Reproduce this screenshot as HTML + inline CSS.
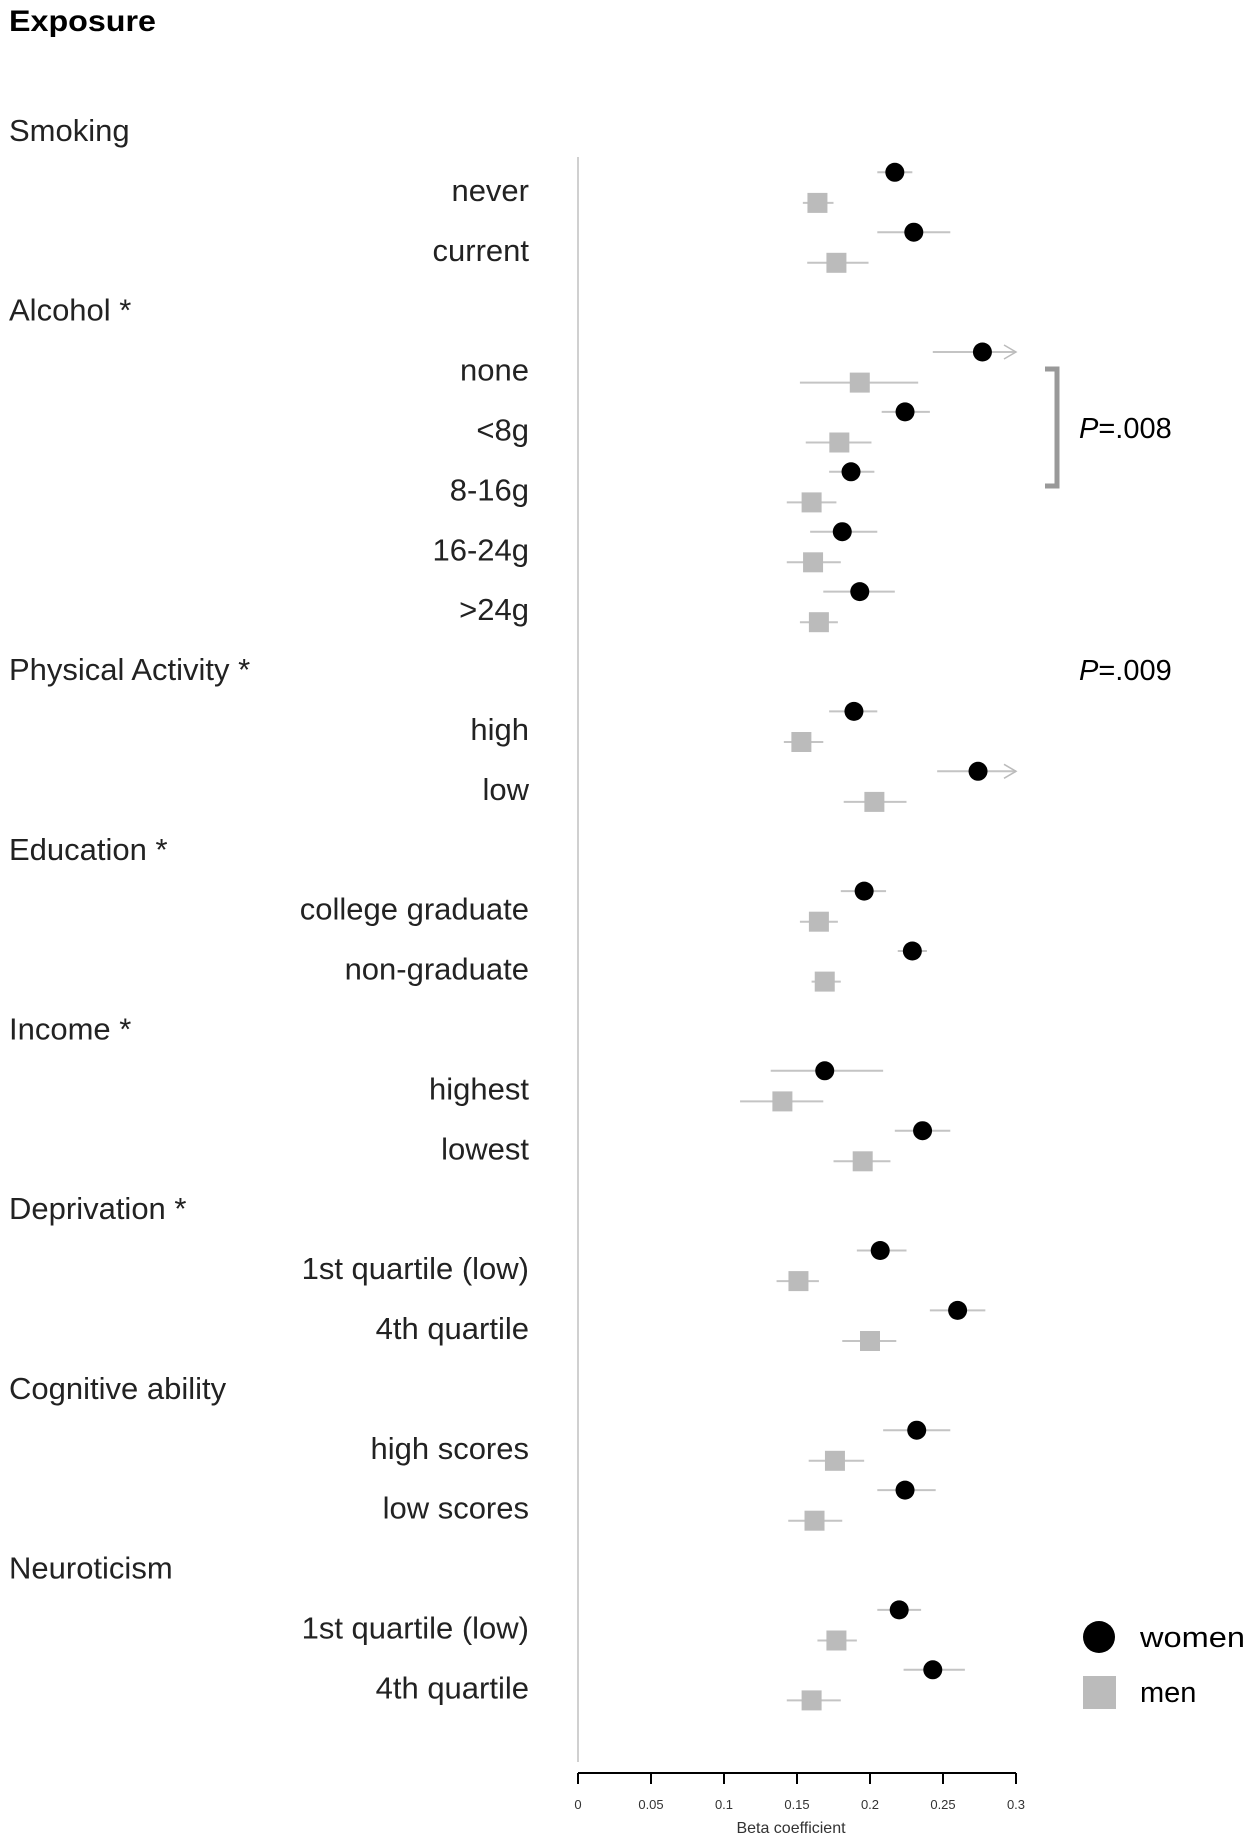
<!DOCTYPE html>
<html><head><meta charset="utf-8"><style>
body{margin:0;background:#fff;}
svg{display:block;font-family:"Liberation Sans",Arial,sans-serif;}
</style></head><body>
<svg id="chart" width="1250" height="1841" viewBox="0 0 1250 1841">
<text x="9" y="31" font-size="30" font-weight="bold" textLength="147" lengthAdjust="spacingAndGlyphs">Exposure</text>
<g id="labels"></g>
<line x1="578" y1="157" x2="578" y2="1762" stroke="#d0d0d0" stroke-width="2"/>
<g id="axis"></g>
<g id="marks"></g>
<path d="M1045 369 H1057 V486 H1045" fill="none" stroke="#999" stroke-width="5"/>
<text x="1079" y="438" font-size="29"><tspan font-style="italic">P</tspan>=.008</text>
<text x="1079" y="680" font-size="29"><tspan font-style="italic">P</tspan>=.009</text>
<circle cx="1099" cy="1637" r="16" fill="#000"/>
<text x="1140" y="1647" font-size="29" textLength="105" lengthAdjust="spacingAndGlyphs">women</text>
<rect x="1083" y="1676" width="33" height="33" fill="#bbb"/>
<text x="1140" y="1702" font-size="29">men</text>
</svg>
<script>
const rowLabels=["Smoking","never","current","Alcohol *","none","<8g","8-16g","16-24g",">24g","Physical Activity *","high","low","Education *","college graduate","non-graduate","Income *","highest","lowest","Deprivation *","1st quartile (low)","4th quartile","Cognitive ability","high scores","low scores","Neuroticism","1st quartile (low)","4th quartile"];
const isHeader=[1,0,0,1,0,0,0,0,0,1,0,0,1,0,0,1,0,0,1,0,0,1,0,0,1,0,0];
const womenEst=[null,.217,.230,null,.277,.224,.187,.181,.193,null,.189,.274,null,.196,.229,null,.169,.236,null,.207,.260,null,.232,.224,null,.220,.243];
const womenLo=[null,.205,.205,null,.243,.208,.172,.159,.168,null,.172,.246,null,.180,.219,null,.132,.217,null,.191,.241,null,.209,.205,null,.205,.223];
const womenHi=[null,.229,.255,null,.31,.241,.203,.205,.217,null,.205,.31,null,.211,.239,null,.209,.255,null,.225,.279,null,.255,.245,null,.235,.265];
const menEst=[null,.164,.177,null,.193,.179,.160,.161,.165,null,.153,.203,null,.165,.169,null,.140,.195,null,.151,.200,null,.176,.162,null,.177,.160];
const menLo=[null,.154,.157,null,.152,.156,.143,.143,.152,null,.141,.182,null,.152,.160,null,.111,.175,null,.136,.181,null,.158,.144,null,.164,.143];
const menHi=[null,.175,.199,null,.233,.201,.177,.180,.178,null,.168,.225,null,.178,.180,null,.168,.214,null,.165,.218,null,.196,.181,null,.191,.180];
const ticks=[0,0.05,0.1,0.15,0.2,0.25,0.3];
const tickLabels=["0","0.05","0.1","0.15","0.2","0.25","0.3"];
const NS="http://www.w3.org/2000/svg";
const X0=578,X1=1016,XMAX=0.3;
const xs=v=>X0+(v/XMAX)*(X1-X0);
const ys=i=>130+i*59.9;
function mk(tag,attrs,parent){const e=document.createElementNS(NS,tag);for(const k in attrs)e.setAttribute(k,attrs[k]);parent.appendChild(e);return e;}
const L=document.getElementById('labels'),M=document.getElementById('marks'),A=document.getElementById('axis');
rowLabels.forEach((t,i)=>{
 const e=mk('text',{x:isHeader[i]?9:529,y:ys(i)+11,'font-size':31,fill:'#222','text-anchor':isHeader[i]?'start':'end'},L);
 e.textContent=t;
 
 
});
function series(est,lo,hi,off,women){
 est.forEach((v,i)=>{
  if(v===null)return;
  const y=ys(i)+off;
  const capped=hi[i]>XMAX;
  const l=mk('line',{x1:xs(lo[i]),x2:xs(Math.min(hi[i],XMAX)),y1:y,y2:y,stroke:'#c4c4c4','stroke-width':2},M);
  
  
  if(capped){
   const a=mk('path',{d:`M${xs(XMAX)-12} ${y-7} L${xs(XMAX)} ${y} L${xs(XMAX)-12} ${y+7}`,fill:'none',stroke:'#bbb','stroke-width':1.5},M);
   
   
  }
  let p;
  if(women){p=mk('circle',{cx:xs(v),cy:y,r:9.5,fill:'#000'},M);}
  else{p=mk('rect',{x:xs(v)-10,y:y-10,width:20,height:20,fill:'#bbb'},M);}
  
  
 });
}
series(menEst,menLo,menHi,13,false);
series(womenEst,womenLo,womenHi,-17.6,true);
const ax=mk('line',{x1:X0,x2:X1,y1:1773,y2:1773,stroke:'#000','stroke-width':2},A);


ticks.forEach((t,i)=>{
 const tk=mk('line',{x1:xs(t),x2:xs(t),y1:1773,y2:1784,stroke:'#000','stroke-width':2},A);
 
 
 const tl=mk('text',{x:xs(t),y:1809,'font-size':13,'text-anchor':'middle',fill:'#333'},A);
 tl.textContent=tickLabels[i];
 
 
});
const at=mk('text',{x:(X0+X1)/2-6,y:1833,'font-size':16,'text-anchor':'middle',fill:'#333'},A);
at.textContent='Beta coefficient';


</script>
</body></html>
